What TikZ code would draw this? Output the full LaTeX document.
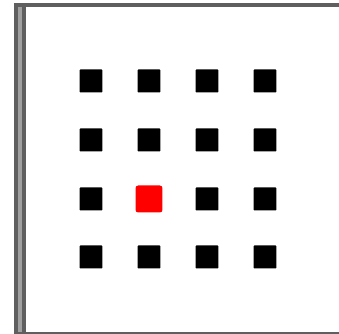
\documentclass[tikz,border=0pt]{standalone}
\usepackage{tikz}
\usetikzlibrary{positioning}
\definecolor{framecol}{RGB}{95,95,95}
\definecolor{stripecol}{RGB}{160,160,160}

\begin{document}
\begin{tikzpicture}[
    x=0.02cm, y=-0.02cm,
    cell/.style={
        rectangle, rounded corners=0.5pt, fill=black,
        minimum size=0.46cm, inner sep=0pt
    },
    picked/.style={
        cell, fill=red, rounded corners=1.5pt, minimum size=0.54cm
    },
    frameline/.style={draw=framecol, line width=2.3pt}
]
\useasboundingbox (0,0) rectangle (339,334);
\clip (0,0) rectangle (339,334);
% frame
\fill[stripecol] (14,5) rectangle (26,333);
\draw[frameline] (16,5) -- (16,333);
\draw[frameline] (24,5) -- (24,333);
\draw[frameline] (14,5) -- (350,5);
\draw[draw=framecol, line width=1.7pt] (14,333) -- (350,333);
% grid of cells
\foreach \r/\yy in {1/81,2/140,3/199,4/257} {
    \foreach \c/\xx in {1/91,2/149,3/207,4/265} {
        \node[cell] (cell-\r-\c) at (\xx,\yy) {};
    }
}
\node[picked] (cell-pick) at (cell-3-2) {};
\end{tikzpicture}
\end{document}
